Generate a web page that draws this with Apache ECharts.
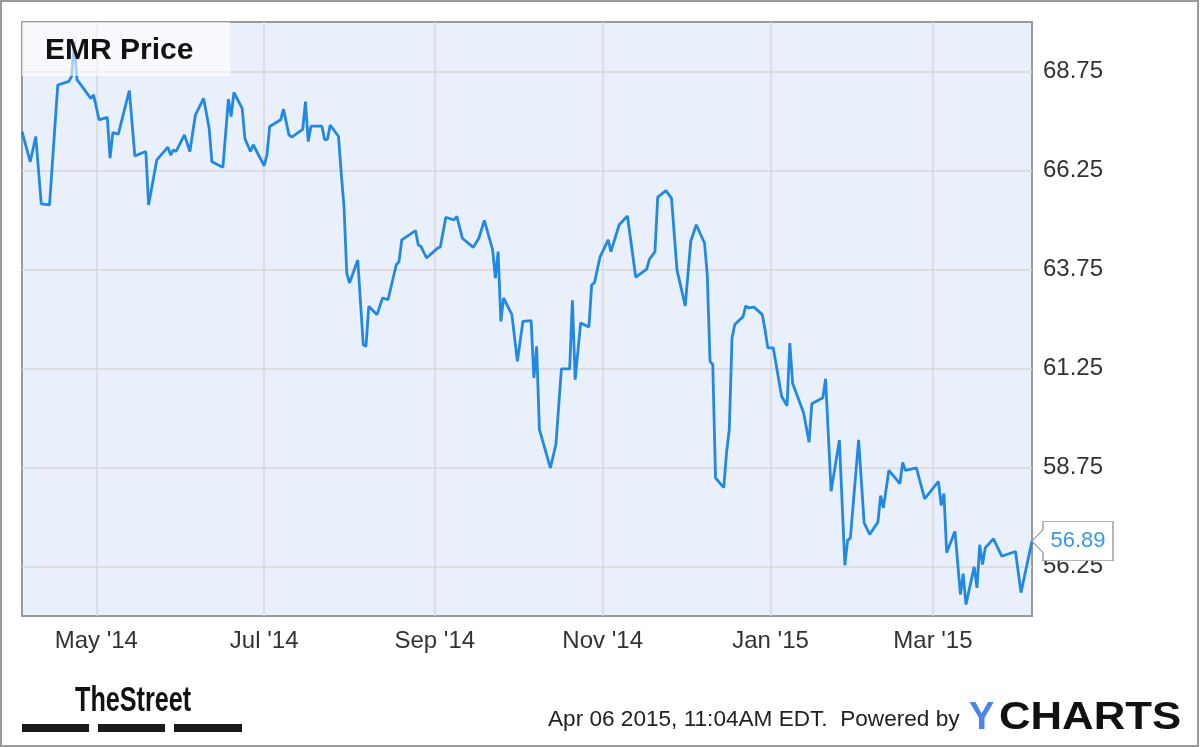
<!DOCTYPE html>
<html>
<head>
<meta charset="utf-8">
<script src="https://cdn.jsdelivr.net/npm/echarts@6/dist/echarts.min.js"></script>
<style>
html,body{margin:0;padding:0;background:#fff;}
#chart{width:1200px;height:747px;}
</style>
</head>
<body>
<div id="chart"></div>
<script>
const dates = [
'2014-04-04','2014-04-07','2014-04-09','2014-04-11','2014-04-14','2014-04-17','2014-04-21','2014-04-22','2014-04-23','2014-04-24',
'2014-04-25','2014-04-29','2014-04-30','2014-05-02','2014-05-05','2014-05-06','2014-05-07','2014-05-09','2014-05-13','2014-05-15',
'2014-05-19','2014-05-20','2014-05-23','2014-05-27','2014-05-28','2014-05-29','2014-05-30','2014-06-02','2014-06-04','2014-06-06',
'2014-06-09','2014-06-11','2014-06-12','2014-06-16','2014-06-18','2014-06-19','2014-06-20','2014-06-23','2014-06-24','2014-06-26',
'2014-06-27','2014-07-01','2014-07-02','2014-07-03','2014-07-07','2014-07-08','2014-07-10','2014-07-11','2014-07-15','2014-07-16',
'2014-07-17','2014-07-18','2014-07-22','2014-07-23','2014-07-24','2014-07-25','2014-07-28','2014-07-29','2014-07-30','2014-07-31',
'2014-08-01','2014-08-04','2014-08-06','2014-08-07','2014-08-08','2014-08-11','2014-08-13','2014-08-15','2014-08-18','2014-08-19',
'2014-08-20','2014-08-25','2014-08-26','2014-08-27','2014-08-29','2014-09-02','2014-09-03','2014-09-05','2014-09-08','2014-09-09',
'2014-09-11','2014-09-15','2014-09-17','2014-09-19','2014-09-22','2014-09-23','2014-09-24','2014-09-25','2014-09-26','2014-09-29',
'2014-10-01','2014-10-03','2014-10-06','2014-10-07','2014-10-08','2014-10-09','2014-10-13','2014-10-15','2014-10-17','2014-10-20',
'2014-10-21','2014-10-22','2014-10-24','2014-10-27','2014-10-28','2014-10-29','2014-10-31','2014-11-03','2014-11-04','2014-11-07',
'2014-11-10','2014-11-13','2014-11-17','2014-11-18','2014-11-20','2014-11-21','2014-11-24','2014-11-26','2014-11-28','2014-12-01',
'2014-12-03','2014-12-05','2014-12-08','2014-12-09','2014-12-10','2014-12-11','2014-12-12','2014-12-15','2014-12-16','2014-12-17',
'2014-12-18','2014-12-19','2014-12-22','2014-12-23','2014-12-24','2014-12-26','2014-12-29','2014-12-30','2014-12-31','2015-01-02',
'2015-01-05','2015-01-07','2015-01-08','2015-01-09','2015-01-13','2015-01-15','2015-01-16','2015-01-20','2015-01-21','2015-01-23',
'2015-01-26','2015-01-28','2015-01-29','2015-01-30','2015-02-02','2015-02-04','2015-02-06','2015-02-09','2015-02-10','2015-02-11',
'2015-02-13','2015-02-17','2015-02-18','2015-02-19','2015-02-23','2015-02-26','2015-03-03','2015-03-04','2015-03-05','2015-03-06',
'2015-03-09','2015-03-11','2015-03-12','2015-03-13','2015-03-16','2015-03-17','2015-03-18','2015-03-19','2015-03-20','2015-03-23',
'2015-03-26','2015-03-31','2015-04-02','2015-04-06'
];
const prices = [
67.23,66.47,67.11,65.41,65.38,68.41,68.50,68.62,69.50,68.54,
68.45,68.07,68.16,67.53,67.59,66.56,67.21,67.17,68.27,66.62,
66.73,65.38,66.52,66.84,66.64,66.77,66.73,67.15,66.73,67.65,
68.07,67.32,66.47,66.33,68.05,67.61,68.22,67.82,67.06,66.73,
66.90,66.37,66.64,67.36,67.53,67.80,67.15,67.09,67.29,67.99,
66.98,67.37,67.37,67.02,67.04,67.40,67.11,66.18,65.34,63.66,
63.41,63.99,61.85,61.81,62.82,62.61,63.03,62.99,63.87,63.95,
64.50,64.73,64.37,64.33,64.04,64.29,64.32,65.07,65.00,65.09,
64.54,64.31,64.54,64.99,64.25,63.53,64.20,62.44,63.03,62.61,
61.43,62.44,62.46,61.01,61.81,59.71,58.74,59.33,61.24,61.24,
62.97,60.97,62.40,62.30,63.36,63.41,64.06,64.50,64.20,64.88,
65.10,63.56,63.76,64.01,64.20,65.58,65.74,65.55,63.74,62.83,
64.46,64.88,64.42,63.62,61.43,61.35,58.49,58.24,59.12,59.71,
62.02,62.36,62.56,62.83,62.78,62.80,62.61,62.23,61.77,61.77,
60.55,60.31,61.89,60.88,60.13,59.39,60.36,60.51,60.99,58.15,
59.44,56.28,56.91,56.97,59.45,57.35,57.06,57.37,58.04,57.73,
58.68,58.34,58.88,58.68,58.74,57.96,58.40,57.79,58.09,56.60,
57.14,55.54,56.07,55.29,56.24,55.71,56.80,56.30,56.72,56.95,
56.51,56.63,55.59,56.89
];
const yTicks = [56.25, 58.75, 61.25, 63.75, 66.25, 68.75];
const xTickDates = ['2014-05-01','2014-07-01','2014-09-01','2014-11-01','2015-01-01','2015-03-01'];
const xTickLabels = ["May '14", "Jul '14", "Sep '14", "Nov '14", "Jan '15", "Mar '15"];
const xRange = ['2014-04-04', '2015-04-06'];
const yRange = [55, 70];

function ts(s) { const p = s.split('-').map(Number); return Date.UTC(p[0], p[1] - 1, p[2]); }
const xTickTs = xTickDates.map(ts);
const seriesData = dates.map((d, i) => [ts(d), prices[i]]);
const last = seriesData[seriesData.length - 1];
const FONT = '"Liberation Sans", Arial, sans-serif';

const chart = echarts.init(document.getElementById('chart'), null, {renderer: 'canvas'});
chart.setOption({
  animation: false,
  backgroundColor: '#ffffff',
  title: {
    text: 'EMR Price',
    left: 22, top: 22,
    padding: [11, 37, 7, 23],
    backgroundColor: 'rgba(255,255,255,0.6)',
    textStyle: {fontFamily: FONT, fontSize: 30, fontWeight: 'bold', color: '#111', lineHeight: 36}
  },
  grid: {
    left: 22, top: 22, right: 168, bottom: 131,
    show: true, backgroundColor: '#eaf0fb', borderColor: '#999', borderWidth: 2,
    containLabel: false, outerBoundsMode: 'none'
  },
  xAxis: {
    type: 'value', min: ts(xRange[0]), max: ts(xRange[1]),
    axisLine: {show: false},
    axisTick: {show: false, customValues: xTickTs},
    axisLabel: {
      customValues: xTickTs, fontFamily: FONT, fontSize: 24, color: '#333', margin: 13,
      formatter: function (v) {
        for (let i = 0; i < xTickTs.length; i++) { if (Math.abs(xTickTs[i] - v) < 3600000) return xTickLabels[i]; }
        return '';
      }
    },
    splitLine: {show: true, lineStyle: {color: '#d7d7d7', width: 1.5}}
  },
  yAxis: {
    type: 'value', position: 'right', min: yRange[0], max: yRange[1],
    axisLine: {show: false},
    axisTick: {show: false, customValues: yTicks},
    axisLabel: {customValues: yTicks, fontFamily: FONT, fontSize: 24, color: '#333', margin: 11,
      formatter: function (v) { return v.toFixed(2); }},
    splitLine: {show: true, lineStyle: {color: '#d7d7d7', width: 1.5}}
  },
  series: [{
    type: 'line', data: seriesData, showSymbol: false, silent: true,
    lineStyle: {color: '#2189e3', width: 2.8}, itemStyle: {color: '#2189e3'},
    markPoint: {
      silent: true, animation: false,
      data: [{coord: last, value: last[1]}],
      symbol: 'path://M0,19.5 L11,8 L11,0 L81,0 L81,39 L11,39 L11,31 Z',
      symbolSize: [81, 39], symbolKeepAspect: false, symbolOffset: [40.5, 0],
      itemStyle: {color: '#ffffff', borderColor: '#9a9a9a', borderWidth: 1},
      label: {show: true, position: 'inside', offset: [5.5, 0], color: '#3a98e6', fontFamily: FONT, fontSize: 22,
        formatter: function (p) { return p.value.toFixed(2); }}
    }
  }],
  graphic: [
    {type: 'rect', shape: {x: 1, y: 1, width: 1197, height: 745}, style: {fill: 'none', stroke: '#9a9a9a', lineWidth: 2}, silent: true},
    {type: 'text', x: 75, y: 701, scaleX: 0.72, style: {text: 'TheStreet', font: 'bold 35px ' + FONT, fill: '#111', verticalAlign: 'middle'}},
    {type: 'rect', shape: {x: 22, y: 724, width: 67, height: 8}, style: {fill: '#1a1a1a'}},
    {type: 'rect', shape: {x: 98, y: 724, width: 67, height: 8}, style: {fill: '#1a1a1a'}},
    {type: 'rect', shape: {x: 174, y: 724, width: 68, height: 8}, style: {fill: '#1a1a1a'}},
    {type: 'text', x: 548, y: 720, style: {text: 'Apr 06 2015, 11:04AM EDT.  Powered by', font: '22.6px ' + FONT, fill: '#222', verticalAlign: 'middle'}},
    {type: 'text', x: 969, y: 719, style: {text: 'Y', font: 'bold 38px ' + FONT, fill: '#4a86e8', verticalAlign: 'middle'}},
    {type: 'text', x: 999, y: 719, scaleX: 1.15, style: {text: 'CHARTS', font: 'bold 38px ' + FONT, fill: '#111', verticalAlign: 'middle'}}
  ]
});
</script>
</body>
</html>
